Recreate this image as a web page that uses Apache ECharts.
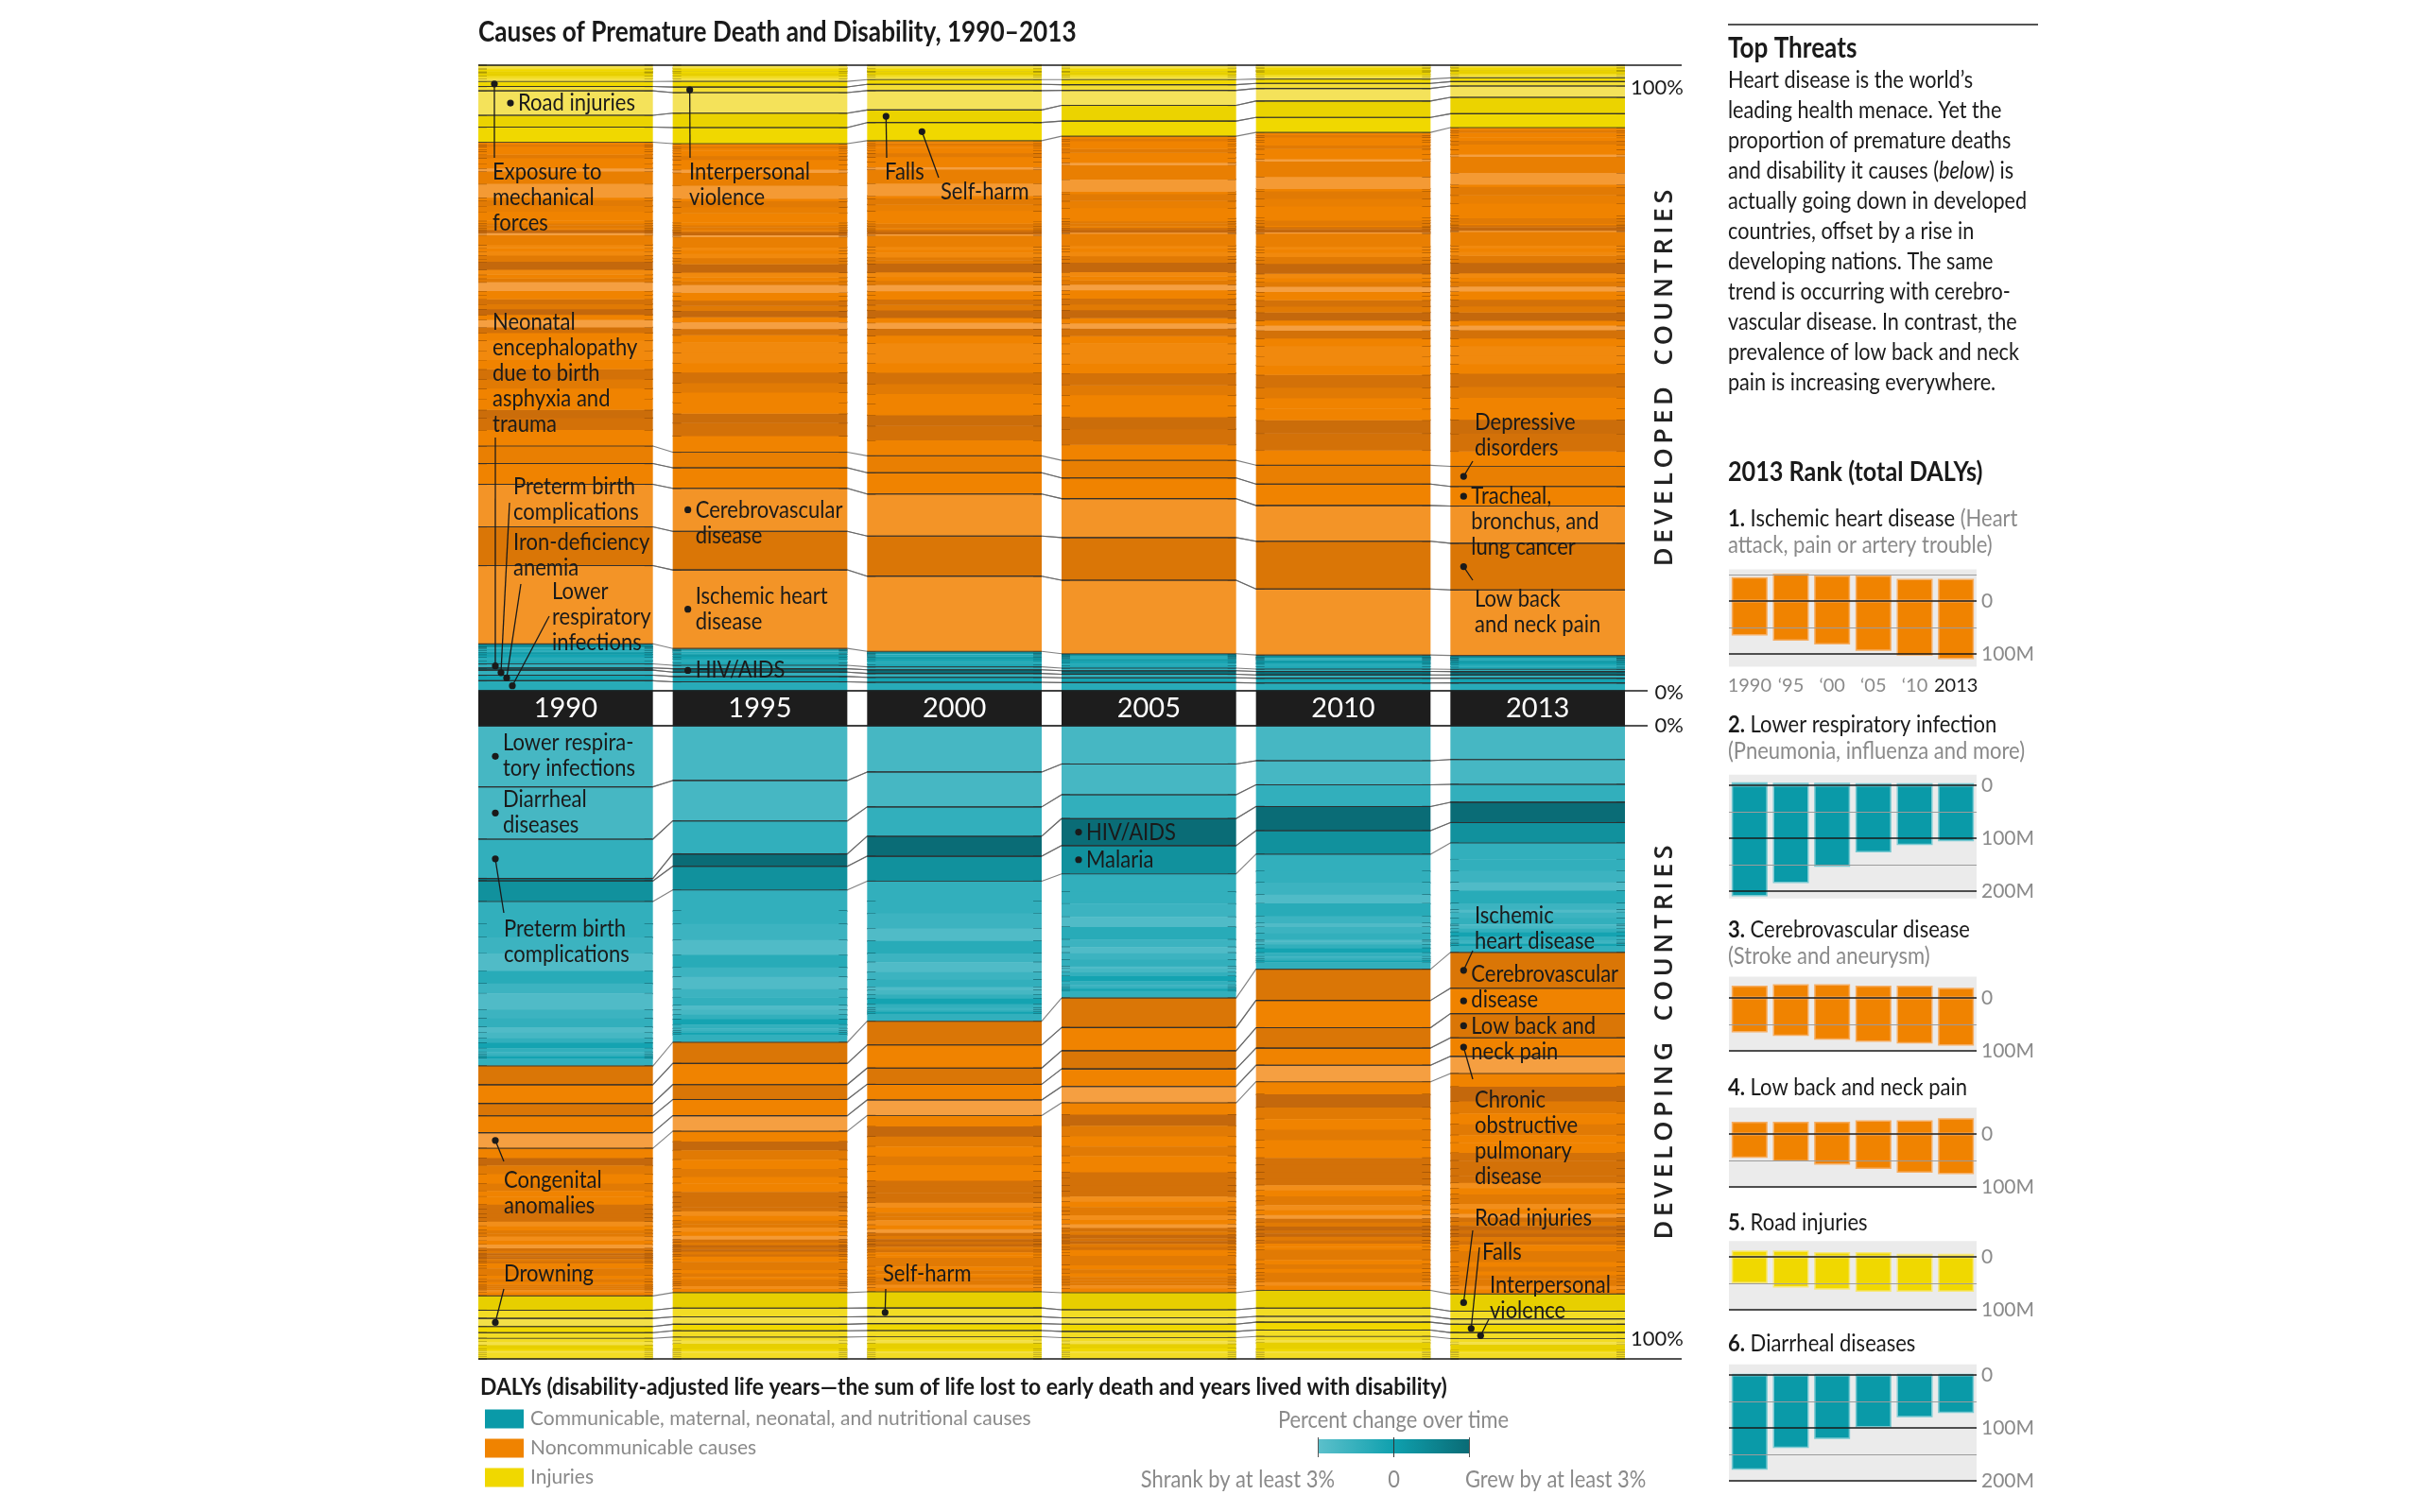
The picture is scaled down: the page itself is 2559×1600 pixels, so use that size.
<!DOCTYPE html>
<html>
<head>
<meta charset="utf-8">
<title>Causes of Premature Death and Disability, 1990–2013</title>
<script src="https://cdn.jsdelivr.net/npm/echarts@6/dist/echarts.min.js"></script>
<style>
html,body{margin:0;padding:0;background:#ffffff;}
#chart{width:2559px;height:1600px;}
</style>
</head>
<body>
<div id="chart"></div>
<script>
// ================= DATA =================
const years = ['1990','1995','2000','2005','2010','2013'];

// ---- Developed countries: share of DALYs (%), stacked upward from 0% ----
const devCommNames = ['Lower respiratory infections','Iron-deficiency anemia','Preterm birth complications','HIV/AIDS','Neonatal encephalopathy','Diarrheal diseases','Tuberculosis','Neonatal sepsis','Other nutritional deficiencies','Meningitis','Maternal disorders','Protein-energy malnutrition','Hepatitis','Other infectious diseases'];
const devCommValues = [
 [1.6,1.45,1.35,1.3,1.25,1.25],[0.9,0.85,0.8,0.78,0.76,0.75],[0.8,0.7,0.62,0.56,0.52,0.5],[0.35,0.55,0.58,0.56,0.55,0.55],
 [0.65,0.55,0.48,0.42,0.38,0.36],[0.5,0.45,0.42,0.4,0.4,0.4],[0.6,0.58,0.52,0.46,0.42,0.4],[0.4,0.35,0.3,0.27,0.25,0.24],
 [0.4,0.38,0.36,0.34,0.34,0.34],[0.3,0.25,0.2,0.18,0.17,0.16],[0.25,0.2,0.17,0.15,0.14,0.14],[0.2,0.16,0.13,0.11,0.1,0.1],
 [0.15,0.14,0.13,0.12,0.11,0.11],[0.4,0.19,0.24,0.25,0.31,0.3]];
const devCommChange = [-1,0,-1.5,3,-1.5,-0.5,-1,0,0.5,-1.5,-0.5,-2.5,0.5,1.5];

const devNcdNames = ['Ischemic heart disease','Low back and neck pain','Cerebrovascular disease','Tracheal, bronchus, and lung cancer','Depressive disorders',
 'Chronic obstructive pulmonary disease','Diabetes',"Alzheimer's disease",'Colorectal cancer','Anxiety disorders',
 'Migraine','Sense organ diseases','Skin diseases','Alcohol use disorders','Cirrhosis',
 'Breast cancer','Osteoarthritis','Stomach cancer','Schizophrenia','Drug use disorders',
 'Hypertensive heart disease','Chronic kidney disease','Oral disorders','Bipolar disorder','Congenital anomalies',
 'Pancreatic cancer','Epilepsy','Asthma','Other musculoskeletal disorders','Prostate cancer',
 'Liver cancer','Cardiomyopathy','Gynecological diseases','Leukemia','Other cardiovascular diseases',
 'Rheumatic heart disease','Atrial fibrillation',"Parkinson's disease",'Multiple sclerosis','Urinary diseases',
 'Rheumatoid arthritis','Lymphoma','Other neoplasms','Other mental disorders','Endocrine and other disorders',
 'Other neurological disorders','Digestive diseases','Other cancers','Peptic ulcer disease','Other chronic respiratory diseases',
 'Conduct disorder and autism','Tension-type headache','Intellectual disability','Bladder cancer','Brain cancer',
 'Kidney cancer','Esophageal cancer'];
const devNcdValues = [
 [12.5,12.6,12.0,11.7,10.5,10.4],[6.2,6.2,6.4,6.8,7.6,7.4],[6.8,6.9,6.7,6.2,5.7,5.9],[3.3,3.3,3.4,3.3,3.4,3.1],[2.8,2.5,2.7,2.8,3.0,3.2],
 [2.6,2.6,2.5,2.5,2.4,2.4],[1.9,2.1,2.3,2.5,2.7,2.8],[1.3,1.5,1.7,1.9,2.1,2.2],[1.8,1.8,1.8,1.8,1.8,1.8],[1.6,1.6,1.6,1.7,1.7,1.7],
 [1.5,1.5,1.6,1.6,1.7,1.7],[1.6,1.7,1.8,1.9,2.0,2.1],[1.5,1.5,1.5,1.5,1.5,1.5],[1.5,1.7,1.6,1.6,1.5,1.4],[1.6,1.6,1.6,1.6,1.6,1.5],
 [1.2,1.2,1.2,1.2,1.2,1.2],[0.9,1.0,1.1,1.2,1.3,1.3],[1.2,1.1,0.95,0.85,0.75,0.7],[0.8,0.8,0.8,0.8,0.8,0.8],[0.9,1.0,1.2,1.3,1.3,1.3],
 [0.8,0.8,0.85,0.9,0.95,1.0],[0.8,0.85,0.9,0.95,1.0,1.05],[0.7,0.7,0.7,0.7,0.7,0.7],[0.6,0.6,0.6,0.6,0.6,0.6],[1.4,1.2,1.0,0.9,0.85,0.8],
 [0.6,0.6,0.65,0.7,0.75,0.78],[0.6,0.6,0.6,0.6,0.6,0.6],[0.8,0.8,0.75,0.7,0.7,0.7],[1.3,1.35,1.4,1.5,1.6,1.65],[0.45,0.48,0.5,0.52,0.55,0.56],
 [0.5,0.5,0.5,0.52,0.55,0.58],[0.7,0.7,0.7,0.68,0.65,0.63],[0.5,0.5,0.5,0.5,0.5,0.5],[0.5,0.5,0.48,0.47,0.46,0.45],[1.6,1.7,1.8,1.9,2.1,2.2],
 [0.3,0.25,0.22,0.2,0.18,0.17],[0.35,0.38,0.42,0.46,0.5,0.53],[0.25,0.27,0.3,0.33,0.36,0.38],[0.2,0.2,0.2,0.2,0.2,0.2],[0.4,0.4,0.4,0.42,0.44,0.45],
 [0.35,0.36,0.37,0.38,0.4,0.42],[0.4,0.4,0.42,0.43,0.44,0.45],[1.5,1.55,1.6,1.7,1.8,1.9],[0.9,0.95,1.0,1.1,1.2,1.3],[0.9,0.95,1.0,1.1,1.2,1.3],
 [0.4,0.4,0.4,0.4,0.4,0.4],[2.2,2.1,2.0,1.95,1.9,1.85],[2.0,2.1,2.2,2.3,2.5,2.6],[0.5,0.45,0.4,0.35,0.32,0.3],[0.8,0.8,0.8,0.8,0.8,0.8],
 [0.8,0.8,0.8,0.8,0.8,0.8],[0.6,0.6,0.6,0.6,0.6,0.6],[0.5,0.5,0.5,0.5,0.5,0.5],[0.35,0.35,0.35,0.35,0.35,0.35],[0.4,0.4,0.4,0.4,0.4,0.4],
 [0.3,0.32,0.34,0.36,0.38,0.4],[0.4,0.4,0.4,0.4,0.4,0.4]];
const devNcdChange = [-1.5,1.5,-1.5,0,0.5, 0,2,2.5,0,0, 1,2,0,-0.5,-0.5, 0,2,-2.5,0,3, 1,2,0,0,-2.5, 1,0,-0.5,3,1, 1,-0.5,0,-0.5,0.5, -2.5,3,2,0,1, 1,0,0,0.5,1, 0,-2,0.5,-2.5,0, 0,1,0,0,0, 1,0];

const devInjNames = ['Self-harm','Falls','Road injuries','Interpersonal violence','Exposure to mechanical forces','Drowning','Fire, heat, and hot substances','Unintentional poisonings','Collective violence','Natural disasters','Adverse effects of medical treatment','Animal contact','Other unintentional injuries'];
const devInjValues = [
 [2.4,2.6,2.9,2.4,2.4,2.2],[1.9,2.3,2.0,2.5,2.6,2.6],[3.9,3.3,3.1,2.4,2.0,1.8],[0.7,0.9,1.0,0.9,0.8,0.7],[0.8,0.9,0.75,0.8,0.7,0.6],
 [0.5,0.5,0.45,0.45,0.42,0.4],[0.4,0.4,0.35,0.35,0.33,0.3],[0.45,0.45,0.4,0.42,0.42,0.4],[0.15,0.25,0.12,0.1,0.1,0.08],[0.1,0.1,0.1,0.12,0.15,0.07],
 [0.35,0.35,0.35,0.35,0.35,0.35],[0.15,0.15,0.13,0.13,0.13,0.12],[0.5,0.4,0.4,0.38,0.3,0.28]];
const devInjChange = [0,0.5,-2.5,-1.5,0,-2,-1,1,0,2,0,-1,-2];

// ---- Developing countries: share of DALYs (%), stacked downward from 0% ----
const dvgCommNames = ['Lower respiratory infections','Diarrheal diseases','Preterm birth complications','HIV/AIDS','Malaria','Neonatal encephalopathy','Neonatal sepsis','Tuberculosis','Protein-energy malnutrition','Iron-deficiency anemia','Meningitis','Measles','Maternal disorders','Other neonatal disorders','Tetanus','Whooping cough','Typhoid and paratyphoid','Neglected tropical diseases','Other nutritional deficiencies','Hepatitis','Encephalitis','Sexually transmitted diseases','Other infectious diseases'];
const dvgCommValues = [
 [9.8,8.8,7.4,6.1,5.5,5.3],[8.4,6.5,5.6,4.9,3.8,3.9],[6.3,5.3,4.7,3.8,3.4,2.8],[0.4,2.0,3.2,4.3,3.8,3.2],[3.3,3.8,4.0,4.5,3.7,3.2],
 [3.6,3.4,3.2,2.9,2.7,2.6],[2.2,2.1,2.0,1.9,1.8,1.8],[2.6,2.6,2.4,2.1,1.9,1.8],[2.8,2.4,2.0,1.6,1.4,1.3],[2.0,2.0,2.0,2.0,2.0,2.0],
 [1.6,1.5,1.4,1.2,1.1,1.0],[2.6,2.0,1.6,0.9,0.6,0.4],[1.4,1.3,1.2,1.1,1.0,0.9],[1.4,1.3,1.2,1.1,1.0,1.0],[0.9,0.7,0.5,0.35,0.25,0.2],
 [0.9,0.8,0.7,0.6,0.5,0.5],[0.7,0.7,0.65,0.6,0.55,0.5],[0.9,0.9,0.85,0.8,0.75,0.7],[0.6,0.6,0.6,0.6,0.6,0.6],[0.4,0.4,0.38,0.36,0.34,0.33],
 [0.3,0.3,0.3,0.28,0.26,0.25],[0.3,0.3,0.3,0.3,0.3,0.3],[1.2,1.2,1.15,1.1,1.05,1.0]];
const dvgCommChange = [-2.5,-2.5,-1.5,3,1, -1.5,-1.5,-2,-3,-1, -2,-3,-2,-1.5,-3, -2.5,-1.5,0,-1.5,-2, -1.5,0,-1.5];

const dvgNcdNames = ['Ischemic heart disease','Cerebrovascular disease','Low back and neck pain','Chronic obstructive pulmonary disease','Congenital anomalies',
 'Depressive disorders','Diabetes','Sense organ diseases','Skin diseases','Migraine','Anxiety disorders','Cirrhosis','Chronic kidney disease','Other musculoskeletal disorders','Hypertensive heart disease',
 'Tracheal, bronchus, and lung cancer','Stomach cancer','Liver cancer','Schizophrenia','Oral disorders','Asthma','Epilepsy','Rheumatic heart disease','Breast cancer','Alcohol use disorders',
 'Drug use disorders','Osteoarthritis',"Alzheimer's disease",'Cardiomyopathy','Colorectal cancer','Leukemia','Esophageal cancer','Digestive diseases','Gynecological diseases','Urinary diseases',
 'Bipolar disorder','Other neoplasms','Other cardiovascular diseases','Endocrine and other disorders','Intellectual disability','Conduct disorder and autism'];
const dvgNcdValues = [
 [3.0,3.4,3.8,4.7,4.9,5.6],[3.0,3.4,3.7,3.7,4.3,4.0],[2.0,2.4,2.6,2.9,3.2,3.8],[2.7,2.6,2.5,2.8,2.7,2.9],[2.5,2.5,2.5,2.6,2.6,2.7],
 [1.6,1.7,1.8,1.9,2.0,2.1],[1.2,1.4,1.6,1.8,2.1,2.3],[1.4,1.5,1.6,1.7,1.8,1.9],[1.5,1.5,1.6,1.6,1.7,1.7],[1.2,1.3,1.4,1.5,1.6,1.7],
 [0.9,1.0,1.0,1.1,1.2,1.2],[1.3,1.4,1.5,1.5,1.6,1.6],[0.7,0.8,0.9,1.0,1.1,1.2],[0.8,0.9,1.0,1.1,1.2,1.3],[0.6,0.7,0.8,0.9,1.0,1.1],
 [0.6,0.7,0.8,0.9,1.0,1.1],[0.7,0.75,0.8,0.8,0.85,0.85],[0.7,0.75,0.8,0.85,0.9,0.95],[0.5,0.55,0.6,0.65,0.7,0.75],[0.5,0.55,0.6,0.65,0.7,0.75],
 [0.7,0.7,0.75,0.75,0.8,0.8],[0.6,0.65,0.7,0.7,0.75,0.75],[0.6,0.6,0.6,0.6,0.6,0.6],[0.4,0.45,0.5,0.55,0.6,0.65],[0.4,0.45,0.5,0.55,0.6,0.65],
 [0.3,0.35,0.4,0.5,0.6,0.65],[0.3,0.35,0.4,0.45,0.5,0.55],[0.3,0.35,0.4,0.45,0.5,0.55],[0.4,0.45,0.5,0.55,0.6,0.65],[0.3,0.35,0.4,0.45,0.5,0.55],
 [0.4,0.42,0.44,0.46,0.48,0.5],[0.4,0.42,0.44,0.46,0.48,0.5],[1.2,1.3,1.4,1.5,1.6,1.7],[0.5,0.55,0.6,0.65,0.7,0.75],[0.5,0.55,0.6,0.65,0.7,0.75],
 [0.4,0.45,0.5,0.55,0.6,0.6],[0.3,0.35,0.4,0.45,0.5,0.55],[0.3,0.35,0.4,0.45,0.5,0.55],[0.3,0.35,0.4,0.45,0.5,0.55],[0.4,0.45,0.5,0.5,0.55,0.55],
 [0.5,0.55,0.6,0.65,0.7,0.7]];
const dvgNcdChange = [1.5,0,1.5,0,-2.5, 0,3,1,0,1,0,0,2,2,2, 2,-1,0,1,1,-1,0,-2,2,1, 3,2,3,1,2,0,0,1,0,1, 0,1,1,1,-1,0];

const dvgInjNames = ['Road injuries','Self-harm','Drowning','Falls','Interpersonal violence','Exposure to mechanical forces','Fire, heat, and hot substances','Collective violence','Natural disasters','Unintentional poisonings','Animal contact','Adverse effects of medical treatment','Other unintentional injuries'];
const dvgInjValues = [
 [2.3,2.5,2.6,2.7,2.8,2.7],[1.3,1.4,1.4,1.3,1.3,1.2],[1.3,1.2,1.1,1.0,0.9,0.85],[1.0,1.05,1.1,1.15,1.25,1.3],[0.9,1.0,1.0,1.0,1.0,0.95],
 [0.6,0.6,0.6,0.6,0.6,0.6],[0.55,0.5,0.48,0.45,0.42,0.4],[0.6,0.9,0.9,0.7,1.0,0.9],[0.3,0.3,0.4,0.5,0.4,0.2],[0.3,0.28,0.26,0.24,0.22,0.2],
 [0.35,0.33,0.31,0.3,0.29,0.28],[0.3,0.3,0.3,0.3,0.3,0.3],[0.3,0.3,0.3,0.3,0.3,0.3]];
const dvgInjChange = [1,-1,-2,0,-1,-1,-2,1,0,-2,-1,-1,-1];

// causes whose boundaries are traced across the columns
const devTraced = ['Lower respiratory infections','Iron-deficiency anemia','Preterm birth complications','HIV/AIDS','Neonatal encephalopathy','Ischemic heart disease','Low back and neck pain','Cerebrovascular disease','Tracheal, bronchus, and lung cancer','Depressive disorders','Self-harm','Falls','Road injuries','Interpersonal violence','Exposure to mechanical forces'];
const dvgTraced = ['Lower respiratory infections','Diarrheal diseases','Preterm birth complications','HIV/AIDS','Malaria','Ischemic heart disease','Cerebrovascular disease','Low back and neck pain','Chronic obstructive pulmonary disease','Congenital anomalies','Road injuries','Self-harm','Drowning','Falls','Interpersonal violence'];

// ---- 2013 rank panel: total DALYs (millions), developed part and developing part ----
const miniYearLabels = ['1990','\u201895','\u201800','\u201805','\u201810','2013'];
const miniTickLabels = {0:'0',100:'100M',200:'200M'};
const miniDeveloped  = [[45,52,48,48,42,42],[6,5,5,4,4,4],[23,26,26,23,23,19],[23,23,23,26,26,30],[12,12,9,9,6,6],[2,2,2,2,2,2]];
const miniDeveloping = [[65,75,82,94,103,110],[210,185,154,127,113,106],[65,72,79,83,86,90],[45,52,58,66,73,76],[50,58,62,66,66,66],[179,138,121,99,80,72]];
const miniGroup = ['ncd','comm','ncd','ncd','inj','comm'];

// ================= STYLE / LAYOUT =================
const TF = "Lato,'Open Sans',sans-serif";
const SX = 0.875;               // horizontal condensing of text (the reference uses a condensed face)
const INK = '#1a1a1a', GRAY = '#8a8a8a';
const GROUP_NAMES = {comm:'Communicable, maternal, neonatal, and nutritional causes', ncd:'Noncommunicable causes', inj:'Injuries'};
const GROUP_COLOR = {comm:'#0a9aa8', ncd:'#f08300', inj:'#f0d800'};
const GROUP_BORDER = {comm:'#79c9d1', ncd:'#f6ae63', inj:'#f6e77c'};
const PAL = {
  comm:{light:[80,187,199], mid:[20,163,177], dark:[10,108,118], tick:'rgba(4,58,66,0.8)'},
  ncd: {light:[246,165,78], mid:[240,131,0],  dark:[196,104,12], tick:'rgba(105,52,4,0.75)'},
  inj: {light:[245,228,108],mid:[240,216,0],  dark:[212,188,0],  tick:'rgba(115,100,10,0.75)'}
};
const COLW = 0.898;
const TICK = 9;
const LH = 27;
const GRID_L = 495.5, GRID_R = 2559 - 1729.5;

function shade(p, chg){
  let t = Math.max(-1, Math.min(1, chg / 3));
  const b = t < 0 ? p.light : p.dark; t = Math.abs(t);
  return 'rgb(' + p.mid.map((v,i)=>Math.round(v + (b[i]-v)*t)).join(',') + ')';
}

function buildSection(groups){
  const causes = [];
  groups.forEach(g => g.names.forEach((n,i) => causes.push({name:n, group:g.key, vals:g.values[i], chg:g.change[i]})));
  const tot = years.map((_,y) => causes.reduce((s,c)=>s + c.vals[y], 0));
  const cum = years.map(()=>0);
  causes.forEach(c => {
    c.start = []; c.end = [];
    years.forEach((_,y) => { c.start[y] = cum[y]/tot[y]*100; cum[y] += c.vals[y]; c.end[y] = cum[y]/tot[y]*100; });
  });
  return causes;
}

const dev = buildSection([
  {key:'comm', names:devCommNames, values:devCommValues, change:devCommChange},
  {key:'ncd',  names:devNcdNames,  values:devNcdValues,  change:devNcdChange},
  {key:'inj',  names:devInjNames,  values:devInjValues,  change:devInjChange}]);
const dvg = buildSection([
  {key:'comm', names:dvgCommNames, values:dvgCommValues, change:dvgCommChange},
  {key:'ncd',  names:dvgNcdNames,  values:dvgNcdValues,  change:dvgNcdChange},
  {key:'inj',  names:dvgInjNames,  values:dvgInjValues,  change:dvgInjChange}]);

function segRender(pal){
  return function(params, api){
    const y = api.value(0), s = api.value(1), e = api.value(2), chg = api.value(3);
    const p0 = api.coord([y, s]), p1 = api.coord([y, e]);
    const bw = api.size([1,0])[0] * COLW;
    const x = p0[0] - bw/2;
    const top = Math.min(p0[1], p1[1]), h = Math.abs(p1[1] - p0[1]);
    const ty = p1[1];
    return {type:'group', children:[
      {type:'rect', shape:{x:x, y:top - 0.25, width:bw, height:h + 0.5}, style:{fill:shade(pal, chg)}},
      {type:'line', shape:{x1:x, y1:ty, x2:x+TICK, y2:ty}, style:{stroke:pal.tick, lineWidth:1.3}},
      {type:'line', shape:{x1:x+bw-TICK, y1:ty, x2:x+bw, y2:ty}, style:{stroke:pal.tick, lineWidth:1.3}}
    ]};
  };
}
function segSeries(causes, key, gi){
  const data = [];
  causes.filter(c => c.group === key).forEach(c => years.forEach((_,y) => data.push([y, c.start[y], c.end[y], c.chg])));
  return {type:'custom', name:GROUP_NAMES[key], xAxisIndex:gi, yAxisIndex:gi, z:2, silent:true, animation:false,
    itemStyle:{color:GROUP_COLOR[key]}, renderItem:segRender(PAL[key]), data:data};
}
function connRender(params, api){
  const y = api.value(0), v = api.value(1), vn = api.value(2);
  const p = api.coord([y, v]);
  const bw = api.size([1,0])[0] * COLW;
  const x = p[0] - bw/2;
  const kids = [{type:'line', shape:{x1:x, y1:p[1], x2:x+bw, y2:p[1]}, style:{stroke:'rgba(45,45,45,0.78)', lineWidth:1.1}}];
  if (y < years.length - 1) {
    const q = api.coord([y+1, vn]);
    kids.push({type:'line', shape:{x1:x+bw, y1:p[1], x2:q[0]-bw/2, y2:q[1]}, style:{stroke:'rgba(95,95,95,0.8)', lineWidth:1.1}});
  }
  return {type:'group', children:kids};
}
function connSeries(causes, traced, gi){
  const data = [];
  causes.filter(c => traced.indexOf(c.name) >= 0).forEach(c => {
    [c.start, c.end].forEach(b => years.forEach((_,y) => data.push([y, b[y], y < years.length-1 ? b[y+1] : b[y]])));
  });
  return {type:'custom', xAxisIndex:gi, yAxisIndex:gi, z:3, silent:true, animation:false, renderItem:connRender, data:data};
}

// annotation layout (text placement in px; the dots come from the data)
const devAnnotations = [
 {cause:'Road injuries', year:0, text:'Road injuries', dx:34, inline:true},
 {cause:'Exposure to mechanical forces', year:0, text:'Exposure to\nmechanical\nforces', dx:17, tx:521, ty:182, lx:523, ly:167},
 {cause:'Interpersonal violence', year:1, text:'Interpersonal\nviolence', dx:18, tx:729, ty:182, lx:730, ly:167},
 {cause:'Falls', year:2, text:'Falls', dx:20, tx:936, ty:182, lx:938, ly:167},
 {cause:'Self-harm', year:2, text:'Self-harm', dx:58, tx:995, ty:203, lx:993, ly:188},
 {cause:'Neonatal encephalopathy', year:0, text:'Neonatal\nencephalopathy\ndue to birth\nasphyxia and\ntrauma', dx:18, tx:521, ty:341, lx:524, ly:463},
 {cause:'Preterm birth complications', year:0, text:'Preterm birth\ncomplications', dx:24, tx:543, ty:515, lx:539, ly:532},
 {cause:'Iron-deficiency anemia', year:0, text:'Iron-deficiency\nanemia', dx:30, tx:543, ty:574, lx:551, ly:618},
 {cause:'Lower respiratory infections', year:0, text:'Lower\nrespiratory\ninfections', dx:36, tx:584, ty:626, lx:581, ly:652},
 {cause:'Cerebrovascular disease', year:1, text:'Cerebrovascular\ndisease', dx:16, inline:true},
 {cause:'Ischemic heart disease', year:1, text:'Ischemic heart\ndisease', dx:16, inline:true, dyText:-14},
 {cause:'HIV/AIDS', year:1, text:'HIV/AIDS', dx:16, inline:true},
 {cause:'Depressive disorders', year:5, text:'Depressive\ndisorders', dx:14, tx:1560, ty:447, lx:1558, ly:488},
 {cause:'Tracheal, bronchus, and lung cancer', year:5, text:'Tracheal,\nbronchus, and\nlung cancer', dx:14, inline:true},
 {cause:'Low back and neck pain', year:5, text:'Low back\nand neck pain', dx:14, tx:1560, ty:634, lx:1558, ly:614}
];
const dvgAnnotations = [
 {cause:'Lower respiratory infections', year:0, text:'Lower respira-\ntory infections', dx:18, inline:true, dyText:-14},
 {cause:'Diarrheal diseases', year:0, text:'Diarrheal\ndiseases', dx:18, inline:true, dyText:-14},
 {cause:'Preterm birth complications', year:0, text:'Preterm birth\ncomplications', dx:18, tx:533, ty:983, lx:533, ly:966},
 {cause:'HIV/AIDS', year:3, text:'HIV/AIDS', dx:18, inline:true},
 {cause:'Malaria', year:3, text:'Malaria', dx:18, inline:true},
 {cause:'Congenital anomalies', year:0, text:'Congenital\nanomalies', dx:18, tx:533, ty:1249, lx:533, ly:1229},
 {cause:'Drowning', year:0, text:'Drowning', dx:18, tx:533, ty:1348, lx:533, ly:1364},
 {cause:'Self-harm', year:2, text:'Self-harm', dx:19, tx:934, ty:1348, lx:937, ly:1364},
 {cause:'Ischemic heart disease', year:5, text:'Ischemic\nheart disease', dx:14, tx:1560, ty:969, lx:1558, ly:1006},
 {cause:'Cerebrovascular disease', year:5, text:'Cerebrovascular\ndisease', dx:14, inline:true, dyText:-28},
 {cause:'Low back and neck pain', year:5, text:'Low back and\nneck pain', dx:14, inline:true},
 {cause:'Chronic obstructive pulmonary disease', year:5, text:'Chronic\nobstructive\npulmonary\ndisease', dx:14, tx:1560, ty:1164, lx:1558, ly:1142},
 {cause:'Road injuries', year:5, text:'Road injuries', dx:14, tx:1560, ty:1289, lx:1558, ly:1302},
 {cause:'Falls', year:5, text:'Falls', dx:22, tx:1568, ty:1325, lx:1565, ly:1320},
 {cause:'Interpersonal violence', year:5, text:'Interpersonal\nviolence', dx:32, tx:1576, ty:1360, lx:1575, ly:1396}
];
function annoSeries(causes, list, gi){
  const data = list.map(a => { const c = causes.find(k => k.name === a.cause); return [a.year, (c.start[a.year] + c.end[a.year]) / 2]; });
  return {type:'custom', xAxisIndex:gi, yAxisIndex:gi, z:5, silent:true, animation:false, data:data,
    renderItem:function(params, api){
      const a = list[params.dataIndex];
      const p = api.coord([api.value(0), api.value(1)]);
      const bw = api.size([1,0])[0] * COLW;
      const dx = p[0] - bw/2 + a.dx, dy = p[1];
      const kids = [];
      let tx, ty;
      if (a.inline) { tx = dx + 8; ty = dy + (a.dyText || 0) - LH/2; }
      else { tx = a.tx; ty = a.ty - LH/2; kids.push({type:'line', shape:{x1:dx, y1:dy, x2:a.lx, y2:a.ly}, style:{stroke:INK, lineWidth:1.3}}); }
      kids.push({type:'circle', shape:{cx:dx, cy:dy, r:3.6}, style:{fill:INK}});
      kids.push({type:'text', x:tx, y:ty, scaleX:0.88, style:{x:0, y:0, text:a.text, fontFamily:TF, fontSize:25, fill:INK, lineHeight:LH, align:'left', verticalAlign:'top'}});
      return {type:'group', children:kids};
    }};
}

function spaced(s){ return s.split('').map(ch => ch === ' ' ? '\u2002' : ch).join('\u2009'); }

// ---------------- options ----------------
const grid = [
  {left:GRID_L, right:GRID_R, top:69, height:662},
  {left:GRID_L, right:GRID_R, top:768, height:670}
];
const xAxis = [
  {gridIndex:0, type:'category', data:years, axisLine:{show:false}, axisTick:{show:false},
   axisLabel:{interval:0, margin:0, color:'#ffffff', fontFamily:TF, fontSize:29, backgroundColor:'#1d1d1d',
     width:184.7, height:37, lineHeight:37, align:'center', verticalAlign:'top'}},
  {gridIndex:1, type:'category', data:years, show:false}
];
const yLabelBase = {fontFamily:TF, fontSize:22, color:INK};
const nameStyle = {fontFamily:"'Open Sans',Lato,sans-serif", fontSize:27, fontWeight:600, color:'#222'};
const yAxis = [
  {gridIndex:0, type:'value', min:0, max:100, interval:100, position:'right',
   splitLine:{show:false}, axisLine:{show:false}, axisTick:{show:false},
   axisLabel:{align:'right', margin:51.5, formatter:v => v === 100 ? '{t|100%}' : '{z|0%}',
     rich:{t:Object.assign({padding:[48,0,0,0]}, yLabelBase), z:Object.assign({padding:[4,0,0,0]}, yLabelBase)}},
   name:spaced('DEVELOPED COUNTRIES'), nameLocation:'middle', nameGap:18, nameRotate:90, nameMoveOverlap:false, nameTextStyle:nameStyle},
  {gridIndex:1, type:'value', min:0, max:100, interval:100, inverse:true, position:'right',
   splitLine:{show:false}, axisLine:{show:false}, axisTick:{show:false},
   axisLabel:{align:'right', margin:51.5, formatter:v => v === 100 ? '{b|100%}' : '{z|0%}',
     rich:{b:Object.assign({padding:[0,0,42,0]}, yLabelBase), z:Object.assign({padding:[0,0,0,0]}, yLabelBase)}},
   name:spaced('DEVELOPING COUNTRIES'), nameLocation:'middle', nameGap:18, nameRotate:90, nameMoveOverlap:false, nameTextStyle:nameStyle}
];
const series = [
  segSeries(dev,'comm',0), segSeries(dev,'ncd',0), segSeries(dev,'inj',0),
  segSeries(dvg,'comm',1), segSeries(dvg,'ncd',1), segSeries(dvg,'inj',1),
  connSeries(dev, devTraced, 0), connSeries(dvg, dvgTraced, 1),
  annoSeries(dev, devAnnotations, 0), annoSeries(dvg, dvgAnnotations, 1)
];

// mini charts
const PXM = 0.56; // px per million DALYs
const miniLayout = [
  {zero:636, min:-60, max:124}, {zero:831, min:-20, max:214}, {zero:1056, min:-40, max:102},
  {zero:1200, min:-50, max:102}, {zero:1330, min:-30, max:102}, {zero:1455, min:-20, max:202}
];
miniLayout.forEach((m, i) => {
  const gi = 2 + i;
  grid.push({left:1829, width:262, top:m.zero + m.min*PXM, height:(m.max - m.min)*PXM, show:true, backgroundColor:'#ebebeb', borderWidth:0});
  xAxis.push({gridIndex:gi, type:'category', data:miniYearLabels, axisLine:{show:false}, axisTick:{show:false},
    axisLabel: i === 0 ? {interval:0, margin:10, fontFamily:TF, fontSize:20, color:GRAY,
      formatter:v => v === '2013' ? '{k|2013}' : v, rich:{k:{fontFamily:TF, fontSize:20, color:INK}}} : {show:false}});
  yAxis.push({gridIndex:gi, type:'value', inverse:true, min:m.min, max:m.max, interval:10, position:'right',
    splitLine:{show:false}, axisLine:{show:false}, axisTick:{show:false},
    axisLabel:{margin:5, fontFamily:TF, fontSize:21, color:GRAY, showMaxLabel:false,
      formatter:v => miniTickLabels[Math.round(v)] || ''}});
  const g = miniGroup[i];
  const lines = [];
  for (let v = -50; v <= 200; v += 50) {
    if (v > m.min && v < m.max + 1) lines.push({yAxis:v, lineStyle:{color: v % 100 === 0 ? INK : '#9c9c9c', width: v % 100 === 0 ? 1.6 : 1, type:'solid'}});
  }
  const barStyle = {color:GROUP_COLOR[g], borderColor:GROUP_BORDER[g], borderWidth:1.5};
  series.push({type:'bar', xAxisIndex:gi, yAxisIndex:gi, stack:'m'+i, barWidth:38, silent:true, animation:false,
    itemStyle:barStyle, data:miniDeveloped[i].map(v => -v)});
  series.push({type:'bar', xAxisIndex:gi, yAxisIndex:gi, stack:'m'+i, barWidth:38, silent:true, animation:false,
    itemStyle:barStyle, data:miniDeveloping[i],
    markLine:{silent:true, symbol:['none','none'], label:{show:false}, animation:false, data:lines}});
});

// ---------------- graphic (texts, rules) ----------------
const G = [];
function gText(x, y, text, opt, sx){ G.push({type:'text', x:x, y:y, scaleX:(sx || SX), z:100, silent:true,
  style:Object.assign({x:0, y:0, text:text, fill:INK, fontFamily:TF, fontSize:25, align:'left', verticalAlign:'middle'}, opt || {})}); }
function gLine(x1, y1, x2, y2, stroke, w){ G.push({type:'line', z:100, silent:true, shape:{x1:x1, y1:y1, x2:x2, y2:y2}, style:{stroke:stroke, lineWidth:w}}); }

gText(506, 34, 'Causes of Premature Death and Disability, 1990\u20132013', {fontSize:31, fontWeight:'bold'}, 0.845);
gLine(506, 69, 1779, 69, INK, 1.6);
gLine(506, 731, 1743, 731, INK, 1.6);
gLine(506, 768, 1743, 768, INK, 1.6);
gLine(506, 1438, 1779, 1438, INK, 1.6);

// right panel
gLine(1828, 26, 2156, 26, INK, 1.6);
gText(1828, 51, 'Top Threats', {fontSize:30, fontWeight:'bold'}, 0.87);
gText(1828, 69, 'Heart disease is the world\u2019s\nleading health menace. Yet the\nproportion of premature deaths\nand disability it causes ({i|below}) is\nactually going down in developed\ncountries, offset by a rise in\ndeveloping nations. The same\ntrend is occurring with cerebro-\nvascular disease. In contrast, the\nprevalence of low back and neck\npain is increasing everywhere.',
  {fontSize:25, lineHeight:32, verticalAlign:'top', rich:{i:{fontStyle:'italic', fontSize:25, fontFamily:TF, fill:INK, lineHeight:32}}}, 0.865);
gText(1828, 500, '2013 Rank (total DALYs)', {fontSize:28, fontWeight:'bold'}, 0.9);
const miniTitles = [
  '{b|1.} Ischemic heart disease {g|(Heart}\n{g|attack, pain or artery trouble)}',
  '{b|2.} Lower respiratory infection\n{g|(Pneumonia, influenza and more)}',
  '{b|3.} Cerebrovascular disease\n{g|(Stroke and aneurysm)}',
  '{b|4.} Low back and neck pain',
  '{b|5.} Road injuries',
  '{b|6.} Diarrheal diseases'];
const miniTitleY = [549, 767, 984, 1151, 1294, 1422];
miniTitles.forEach((t, i) => gText(1828, miniTitleY[i] - 14, t, {fontSize:25, lineHeight:28, verticalAlign:'top',
  rich:{b:{fontWeight:'bold', fontSize:25, fontFamily:TF, fill:INK, lineHeight:28}, g:{fontSize:25, fontFamily:TF, fill:GRAY, lineHeight:28}}}, 0.88));

// bottom texts and change scale
gText(508, 1468, 'DALYs (disability-adjusted life years\u2014the sum of life lost to early death and years lived with disability)', {fontSize:25, fontWeight:'bold'}, 0.915);
gText(1474, 1503, 'Percent change over time', {align:'center', fill:GRAY});
G.push({type:'rect', z:100, silent:true, shape:{x:1394, y:1523, width:161, height:15},
  style:{fill:new echarts.graphic.LinearGradient(0, 0, 1, 0, [{offset:0, color:'#5cc0cb'}, {offset:0.5, color:'#0fa0ae'}, {offset:1, color:'#0a6b75'}])}});
gLine(1394.5, 1521, 1394.5, 1542, '#555', 1);
gLine(1474.5, 1521, 1474.5, 1542, '#333', 1);
gLine(1554.5, 1521, 1554.5, 1542, '#555', 1);
gText(1412, 1566, 'Shrank by at least 3%', {align:'right', fill:GRAY});
gText(1474.5, 1566, '0', {align:'center', fill:GRAY});
gText(1550, 1566, 'Grew by at least 3%', {align:'left', fill:GRAY});

const option = {
  backgroundColor:'#ffffff',
  animation:false,
  legend:{left:508, top:1486, orient:'vertical', itemWidth:41, itemHeight:20, itemGap:10, icon:'rect', selectedMode:false,
    data:[GROUP_NAMES.comm, GROUP_NAMES.ncd, GROUP_NAMES.inj],
    textStyle:{fontFamily:TF, fontSize:21, color:GRAY, lineHeight:20, padding:[0,0,0,2]}},
  grid:grid, xAxis:xAxis, yAxis:yAxis, series:series, graphic:G
};
const chart = echarts.init(document.getElementById('chart'));
chart.setOption(option);
</script>
</body>
</html>
